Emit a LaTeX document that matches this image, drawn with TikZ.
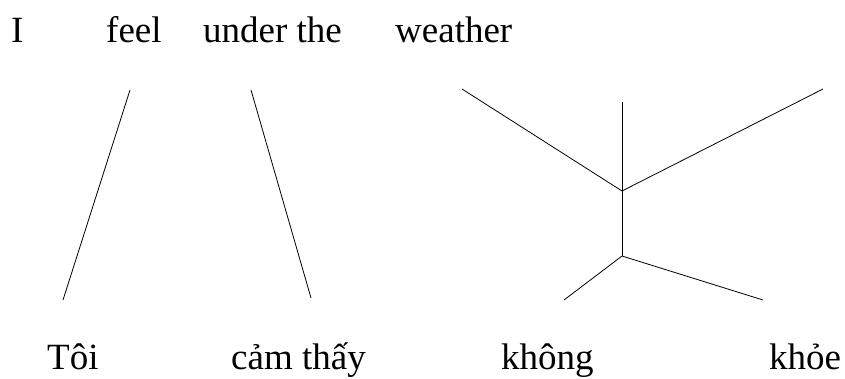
\documentclass[tikz,border=0pt]{standalone}
\usepackage{fontspec}
\setmainfont{Liberation Serif}
\begin{document}
\begin{tikzpicture}[x=1pt,y=1pt,
  word/.style={anchor=base west,inner sep=0pt,font=\fontsize{37}{40}\selectfont},
  link/.style={draw=black,line width=0.8pt}]
\useasboundingbox (0,0) rectangle (845,378);
% top words
\node[word] (I) at (11,335.3) {I};
\node[word] (feel) at (106,335.3) {feel};
\node[word] (under) at (203,335.3) {under the};
\node[word] (weather) at (395,335.3) {weather};
% bottom words
\node[word] (toi) at (47,9) {Tôi};
\node[word] (camthay) at (231,9) {cảm thấy};
\node[word] (khong) at (501,9) {không};
\node[word] (khoe) at (769,9) {khỏe};
% alignment lines
\coordinate (a1) at (130,288);
\coordinate (a2) at (63,78);
\coordinate (b1) at (251,288);
\coordinate (b2) at (311,80);
\coordinate (tl) at (462,289);
\coordinate (tm) at (622,276);
\coordinate (tr) at (823,289);
\coordinate (j1) at (622,187);
\coordinate (j2) at (622,122);
\coordinate (bl) at (564,78);
\coordinate (br) at (763,78);
\draw[link] (a1) -- (a2);
\draw[link] (b1) -- (b2);
\draw[link] (tl) -- (j1) -- (tr);
\draw[link] (tm) -- (j1) -- (j2);
\draw[link] (bl) -- (j2) -- (br);
\end{tikzpicture}
\end{document}
